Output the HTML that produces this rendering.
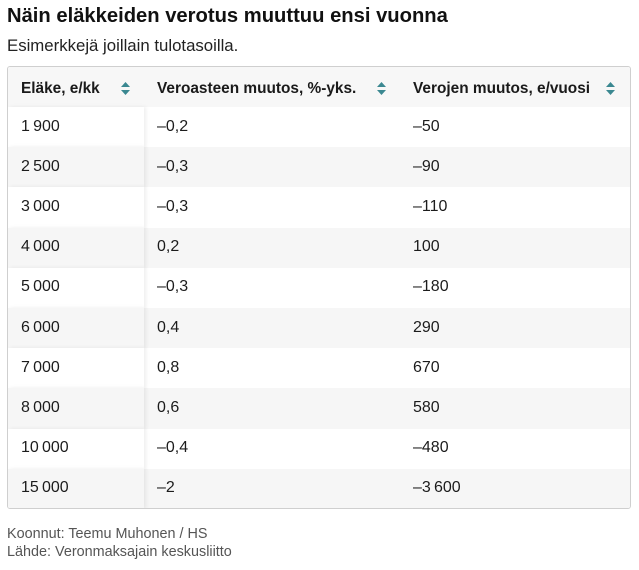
<!DOCTYPE html>
<html>
<head>
<meta charset="utf-8">
<style>
  html,body{margin:0;padding:0;background:#fff;}
  body{width:639px;height:570px;position:relative;overflow:hidden;font-family:"Liberation Sans",sans-serif;color:#1c1c1c;}
  .abs{position:absolute;white-space:nowrap;}
  .title{left:7px;top:6px;font-size:20.2px;line-height:20.2px;font-weight:bold;color:#111;}
  .sub{left:7px;top:37.8px;font-size:16.8px;line-height:16.8px;color:#222;}
  .table{position:absolute;left:7px;top:66px;width:622px;height:441px;border:1px solid #cfcfcf;border-radius:3px;overflow:hidden;background:#fff;}
  .row{position:absolute;left:0;width:622px;height:40.2px;}
  .row.g{background:#f6f6f6;}
  .c1{position:absolute;left:0;top:0;width:136px;height:100%;z-index:2;}
  .row .c1{box-shadow:2px 0 4px rgba(0,0,0,0.07);}
  .row.g .c1{background:#f6f6f6;}
  .row.w .c1{background:#fff;}
  .hdr{position:absolute;left:0;top:0;width:622px;height:40px;background:#f7f7f7;}
  .ht{position:absolute;font-size:15.4px;line-height:15.4px;font-weight:bold;color:#1a1a1a;white-space:nowrap;}
  .t{position:absolute;font-size:16px;line-height:16px;color:#1c1c1c;white-space:nowrap;z-index:3;}
  .foot{left:7px;font-size:14.4px;line-height:14.4px;color:#555;}
  .ic{position:absolute;width:9px;height:13px;}
</style>
</head>
<body>
<div class="abs title">Näin eläkkeiden verotus muuttuu ensi vuonna</div>
<div class="abs sub">Esimerkkejä joillain tulotasoilla.</div>

<div class="table">
  <div class="hdr">
    <div class="ht" style="left:13px;top:14px;">Eläke, e/kk</div>
    <div class="ht" style="left:149px;top:14px;">Veroasteen muutos, %-yks.</div>
    <div class="ht" style="left:405px;top:14px;">Verojen muutos, e/vuosi</div>
    <svg class="ic" style="left:113px;top:15px;" viewBox="0 0 9 13"><polygon points="4.5,0 9,5 0,5" fill="#3b8891"/><polygon points="0,8 9,8 4.5,13" fill="#3b8891"/></svg>
    <svg class="ic" style="left:369px;top:15px;" viewBox="0 0 9 13"><polygon points="4.5,0 9,5 0,5" fill="#3b8891"/><polygon points="0,8 9,8 4.5,13" fill="#3b8891"/></svg>
    <svg class="ic" style="left:598px;top:15px;" viewBox="0 0 9 13"><polygon points="4.5,0 9,5 0,5" fill="#3b8891"/><polygon points="0,8 9,8 4.5,13" fill="#3b8891"/></svg>
  </div>

  <div class="row w" style="top:40px;"><div class="c1"></div><div class="t" style="left:13px;top:11.5px;">1&#8201;900</div><div class="t" style="left:149px;top:11.5px;">–0,2</div><div class="t" style="left:405px;top:11.5px;">–50</div></div>
  <div class="row g" style="top:80.2px;"><div class="c1"></div><div class="t" style="left:13px;top:11.5px;">2&#8201;500</div><div class="t" style="left:149px;top:11.5px;">–0,3</div><div class="t" style="left:405px;top:11.5px;">–90</div></div>
  <div class="row w" style="top:120.4px;"><div class="c1"></div><div class="t" style="left:13px;top:11.5px;">3&#8201;000</div><div class="t" style="left:149px;top:11.5px;">–0,3</div><div class="t" style="left:405px;top:11.5px;">–110</div></div>
  <div class="row g" style="top:160.6px;"><div class="c1"></div><div class="t" style="left:13px;top:11.5px;">4&#8201;000</div><div class="t" style="left:149px;top:11.5px;">0,2</div><div class="t" style="left:405px;top:11.5px;">100</div></div>
  <div class="row w" style="top:200.8px;"><div class="c1"></div><div class="t" style="left:13px;top:11.5px;">5&#8201;000</div><div class="t" style="left:149px;top:11.5px;">–0,3</div><div class="t" style="left:405px;top:11.5px;">–180</div></div>
  <div class="row g" style="top:241px;"><div class="c1"></div><div class="t" style="left:13px;top:11.5px;">6&#8201;000</div><div class="t" style="left:149px;top:11.5px;">0,4</div><div class="t" style="left:405px;top:11.5px;">290</div></div>
  <div class="row w" style="top:281.2px;"><div class="c1"></div><div class="t" style="left:13px;top:11.5px;">7&#8201;000</div><div class="t" style="left:149px;top:11.5px;">0,8</div><div class="t" style="left:405px;top:11.5px;">670</div></div>
  <div class="row g" style="top:321.4px;"><div class="c1"></div><div class="t" style="left:13px;top:11.5px;">8&#8201;000</div><div class="t" style="left:149px;top:11.5px;">0,6</div><div class="t" style="left:405px;top:11.5px;">580</div></div>
  <div class="row w" style="top:361.6px;"><div class="c1"></div><div class="t" style="left:13px;top:11.5px;">10&#8201;000</div><div class="t" style="left:149px;top:11.5px;">–0,4</div><div class="t" style="left:405px;top:11.5px;">–480</div></div>
  <div class="row g" style="top:401.8px;"><div class="c1"></div><div class="t" style="left:13px;top:11.5px;">15&#8201;000</div><div class="t" style="left:149px;top:11.5px;">–2</div><div class="t" style="left:405px;top:11.5px;">–3&#8201;600</div></div>
</div>

<div class="abs foot" style="top:527px;">Koonnut: Teemu Muhonen / HS</div>
<div class="abs foot" style="top:545px;">Lähde: Veronmaksajain keskusliitto</div>
</body>
</html>
